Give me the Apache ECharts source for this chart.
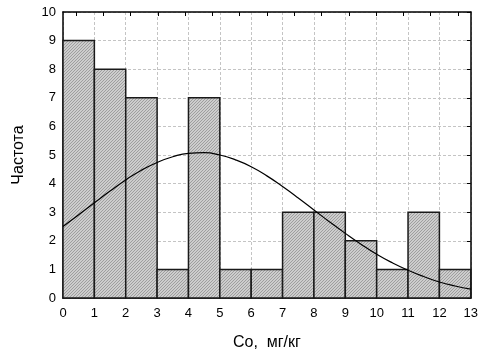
<!DOCTYPE html>
<html>
<head>
<meta charset="utf-8">
<script src="https://cdn.jsdelivr.net/npm/echarts@6/dist/echarts.min.js"></script>
<style>html,body{margin:0;padding:0;background:#fff}#c{width:481px;height:356px}</style>
</head>
<body>
<div id="c"></div>
<script>
// Histogram bins (lower edges, upper edges) and frequencies
const binStart = [0,1,2,3,4,5,6,7,8,9,10,11,12];
const binEnd   = [1,2,3,4,5,6,7,8,9,10,11,12,13];
const freq     = [9,8,7,1,7,1,1,3,3,2,1,3,1];
// Fitted curve
const curveX = [0,0.5,1,1.5,2,2.5,3,3.5,4,4.5,5,5.5,6,6.5,7,7.5,8,8.5,9,9.5,10,10.5,11,11.5,12,12.5,13];
const curveY = [2.50,2.91,3.33,3.74,4.13,4.47,4.74,4.94,5.06,5.08,5.00,4.83,4.59,4.27,3.90,3.50,3.08,2.66,2.26,1.88,1.53,1.23,0.97,0.75,0.56,0.42,0.31];
const xTicks = [0,1,2,3,4,5,6,7,8,9,10,11,12,13];
const yTicks = [0,1,2,3,4,5,6,7,8,9,10];
const xName = 'Co,  мг/кг';
const yName = 'Частота';

// hatch pattern
const pc = document.createElement('canvas');
pc.width = 3; pc.height = 3;
const g = pc.getContext('2d');
g.fillStyle = '#cdcdcd'; g.fillRect(0,0,3,3);
g.fillStyle = '#9e9e9e';
for (let x=0;x<3;x++) for (let y=0;y<3;y++) if ((x+y)%3===0) g.fillRect(x,y,1,1);
const pattern = {image: pc, repeat: 'repeat'};

const font = 'Liberation Sans, Arial, sans-serif';
const chart = echarts.init(document.getElementById('c'), null, {renderer:'canvas'});
const dashed = {show:true, lineStyle:{color:'#c4c4c4', type:[3,2], width:1}};
chart.setOption({
  animation:false,
  grid:[
    {left:63, right:10, top:12, bottom:54},
    {left:76, right:23, top:12, bottom:54}
  ],
  xAxis:[
    {type:'value', gridIndex:0, position:'bottom', min:xTicks[0], max:xTicks[xTicks.length-1], interval:1,
     axisLine:{show:true, onZero:false, lineStyle:{color:'#000', width:1.5}},
     axisTick:{show:false},
     axisLabel:{color:'#000', fontSize:13, fontFamily:font, margin:9},
     splitLine:dashed,
     name:xName, nameLocation:'middle', nameGap:37,
     nameTextStyle:{color:'#000', fontSize:16, fontFamily:font}},
    {type:'value', gridIndex:0, position:'top', min:0, max:13,
     axisLine:{show:true, onZero:false, lineStyle:{color:'#000', width:1.5}},
     axisTick:{show:false}, axisLabel:{show:false}, splitLine:{show:false}},
    {type:'value', gridIndex:1, position:'top', min:0, max:14, interval:1,
     axisLine:{show:false, onZero:false}, axisTick:{show:true, inside:true, length:4, lineStyle:{color:'#000', width:1}},
     axisLabel:{show:false}, splitLine:{show:false}}
  ],
  yAxis:[
    {type:'value', gridIndex:0, position:'left', min:yTicks[0], max:yTicks[yTicks.length-1], interval:1,
     axisLine:{show:true, onZero:false, lineStyle:{color:'#000', width:1.5}},
     axisTick:{show:false},
     axisLabel:{color:'#000', fontSize:13, fontFamily:font, margin:7},
     splitLine:dashed,
     name:yName, nameLocation:'middle', nameGap:36, nameRotate:90,
     nameTextStyle:{color:'#000', fontSize:16, fontFamily:font}},
    {type:'value', gridIndex:0, position:'right', min:0, max:10, interval:1,
     axisLine:{show:true, onZero:false, lineStyle:{color:'#000', width:1.5}},
     axisTick:{show:true, inside:true, length:4, lineStyle:{color:'#000', width:1}},
     axisLabel:{show:false}, splitLine:{show:false}},
    {type:'value', gridIndex:1, show:false, min:0, max:10}
  ],
  series:[
    {type:'custom', xAxisIndex:0, yAxisIndex:0,
     data: binStart.map((s,i)=>[s, binEnd[i], freq[i]]),
     encode:{x:[0,1], y:2},
     renderItem:function(params, api){
       const p0 = api.coord([api.value(0), api.value(2)]);
       const p1 = api.coord([api.value(1), 0]);
       return {type:'rect', shape:{x:p0[0], y:p0[1], width:p1[0]-p0[0], height:p1[1]-p0[1]},
               style:{fill:pattern, stroke:'#1a1a1a', lineWidth:1.5}};
     }, z:2},
    {type:'line', xAxisIndex:0, yAxisIndex:0, smooth:true, symbol:'none',
     data: curveX.map((x,i)=>[x, curveY[i]]),
     lineStyle:{color:'#000', width:1.2}, z:3}
  ]
});
</script>
</body>
</html>
